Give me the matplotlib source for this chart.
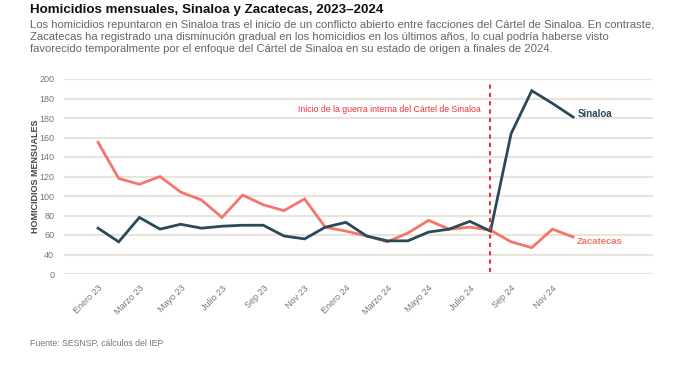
import numpy as np
import matplotlib.pyplot as plt
from matplotlib.transforms import ScaledTranslation

plt.rcParams['font.family'] = ['Liberation Sans', 'DejaVu Sans']

# monthly data, Jan 2023 - Dec 2024
meses = ['Enero 23', 'Feb 23', 'Marzo 23', 'Abr 23', 'Mayo 23', 'Jun 23',
         'Julio 23', 'Ago 23', 'Sep 23', 'Oct 23', 'Nov 23', 'Dic 23',
         'Enero 24', 'Feb 24', 'Marzo 24', 'Abr 24', 'Mayo 24', 'Jun 24',
         'Julio 24', 'Ago 24', 'Sep 24', 'Oct 24', 'Nov 24', 'Dic 24']
sinaloa = [47, 33, 58, 46, 51, 47, 49, 50, 50, 39, 36, 48,
           53, 39, 34, 34, 43, 46, 54, 44, 144, 188, 175, 161]
zacatecas = [135, 98, 92, 100, 84, 76, 58, 81, 71, 65, 77, 48,
             44, 39, 33, 42, 55, 46, 48, 45, 33, 27, 46, 38]
ytick_vals = [0, 20, 40, 60, 80, 100, 120, 140, 160, 180, 200]
ytick_labels = ['0', '40', '60', '80', '100', '120', '140', '160', '180', '180', '200']
inicio_guerra = 19  # Ago 24

c_sin = '#2a4a59'
c_zac = '#f4756a'
c_red = '#e8333c'
c_grid = '#e6e4dc'
c_gray = '#777777'

fig = plt.figure(figsize=(6.99, 3.67), dpi=100)
ax = fig.add_axes([64 / 699, 1 - 274 / 367, (653 - 64) / 699, (274 - 79) / 367])

x = np.arange(len(meses))
ax.plot(x, zacatecas, color=c_zac, lw=2, zorder=3, solid_joinstyle='miter')
ax.plot(x, sinaloa, color=c_sin, lw=2, zorder=4, solid_joinstyle='miter')

ax.vlines(inicio_guerra, 2, 198, colors=c_red, linestyles=(0, (2, 2)), lw=1.5, zorder=5)
ax.text(inicio_guerra - 0.45, 169, 'Inicio de la guerra interna del Cártel de Sinaloa',
        color=c_red, fontsize=6.3, ha='right', va='center')

ax.text(len(meses) - 1 + 0.2, sinaloa[-1] + 3, 'Sinaloa', color=c_sin, fontsize=7,
        fontweight='bold', ha='left', va='center')
ax.text(len(meses) - 1 + 0.2, zacatecas[-1] - 5, 'Zacatecas', color=c_zac, fontsize=6.8,
        fontweight='bold', ha='left', va='center')

ax.set_xlim(-1.65, 26.87)
ax.set_ylim(0, 200)
ax.set_yticks(ytick_vals)
ax.set_yticklabels(ytick_labels)
ax.set_xticks(x[::2])
ax.set_xticklabels(meses[::2], rotation=45, ha='right', va='top', rotation_mode='anchor')
shift = ScaledTranslation(-3 / 100, 0, fig.dpi_scale_trans)
for lbl in ax.get_xticklabels():
    lbl.set_transform(lbl.get_transform() + shift)
ax.tick_params(axis='both', length=0, labelsize=6.5, labelcolor=c_gray)
ax.tick_params(axis='x', pad=7)
ax.tick_params(axis='y', pad=7)
ax.yaxis.grid(True, color=c_grid, lw=1.5)
ax.set_axisbelow(True)
for s in ax.spines.values():
    s.set_visible(False)
ax.set_ylabel('HOMICIDIOS MENSUALES', fontsize=6.5, fontweight='bold', color='#444444')
ax.yaxis.set_label_coords((40 - 64) / 589, 0.5)

fig.text(30 / 699, 1 - 10 / 367, 'Homicidios mensuales, Sinaloa y Zacatecas, 2023–2024',
         fontsize=9.6, fontweight='bold', color='#111111', va='center')
subtitulo = ('Los homicidios repuntaron en Sinaloa tras el inicio de un conflicto abierto entre facciones del Cártel de Sinaloa. En contraste,\n'
             'Zacatecas ha registrado una disminución gradual en los homicidios en los últimos años, lo cual podría haberse visto\n'
             'favorecido temporalmente por el enfoque del Cártel de Sinaloa en su estado de origen a finales de 2024.')
fig.text(30 / 699, 1 - 20 / 367, subtitulo, fontsize=8.1, color='#666666', va='top', linespacing=1.27)
fig.text(30 / 699, 1 - 343 / 367, 'Fuente: SESNSP, cálculos del IEP', fontsize=6.3, color='#777777', va='center')

fig.savefig('out.png', dpi=100)
